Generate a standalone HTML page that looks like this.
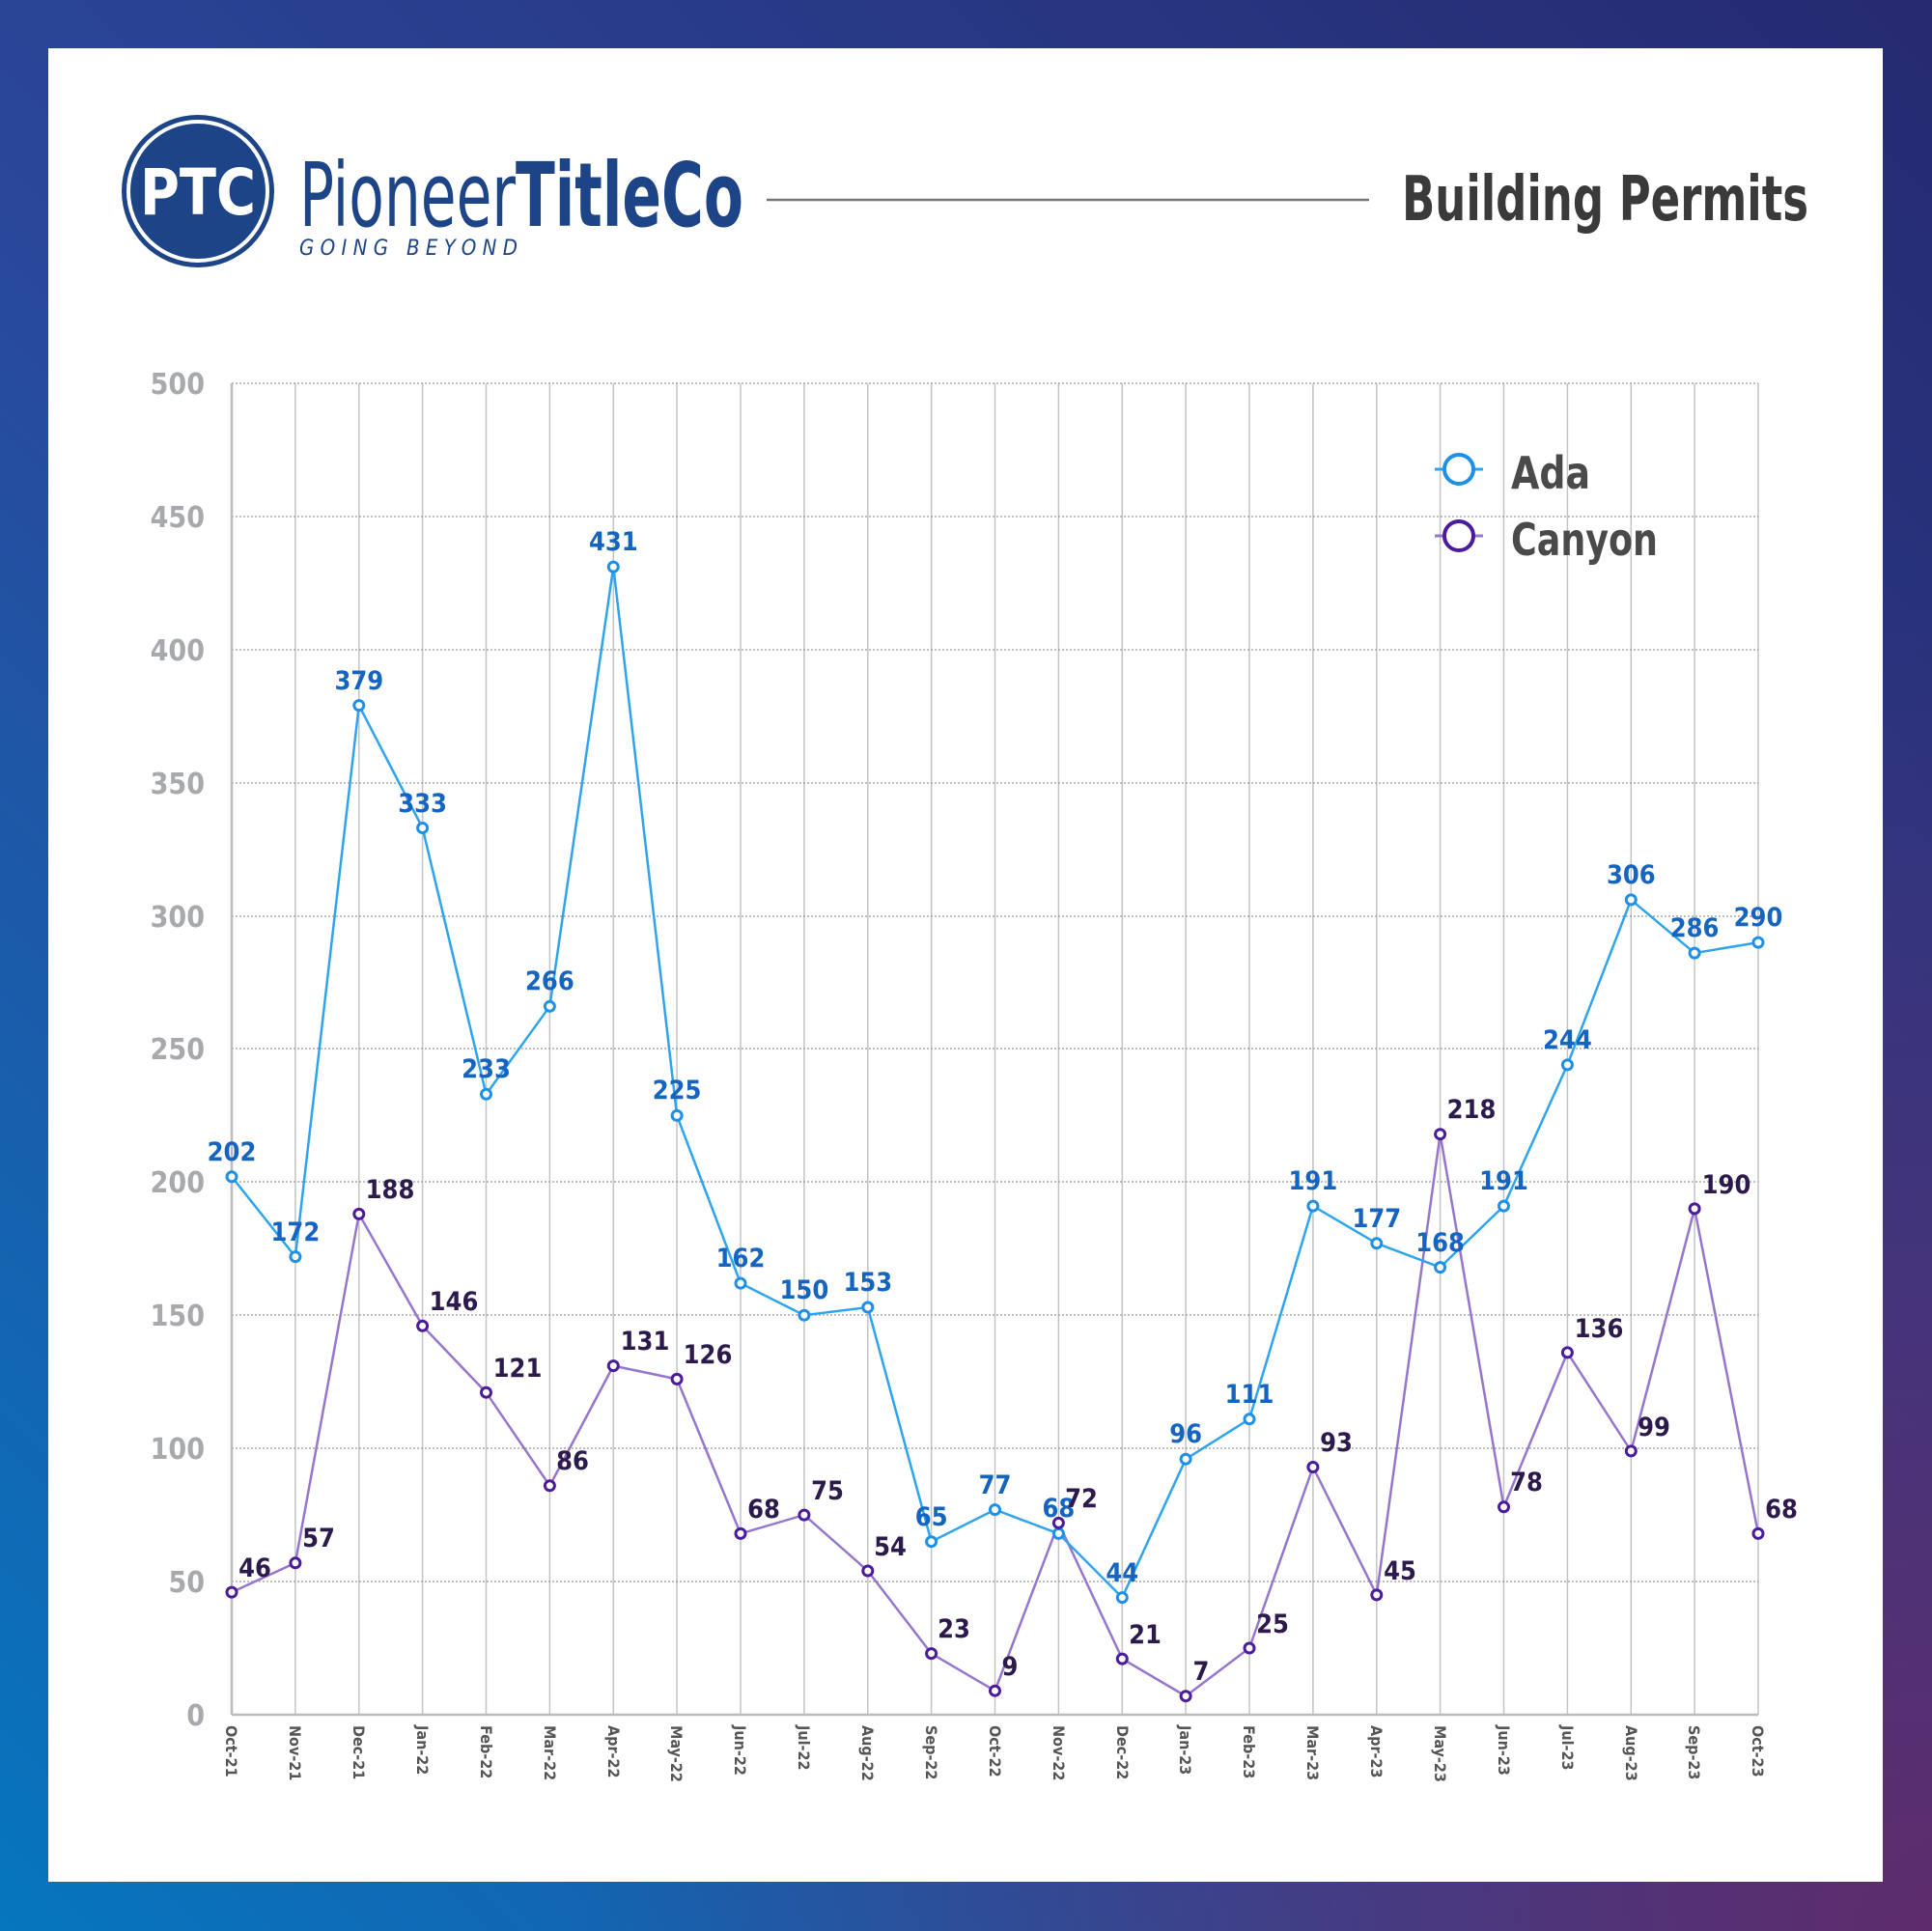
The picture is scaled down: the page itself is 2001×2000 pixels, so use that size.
<!DOCTYPE html>
<html><head><meta charset="utf-8"><style>
html,body{margin:0;padding:0;}
body{width:2001px;height:2000px;overflow:hidden;}
svg{display:block;}
.c{font-family:"Liberation Sans Narrow","DejaVu Sans Condensed","Liberation Sans",sans-serif;font-weight:bold;}
</style></head><body>
<svg width="2001" height="2000" viewBox="0 0 2001 2000" xmlns="http://www.w3.org/2000/svg">
<defs>
<linearGradient id="bg" x1="0" y1="1" x2="1" y2="0">
<stop offset="0" stop-color="#0676bf"/><stop offset="0.45" stop-color="#2a479a"/><stop offset="1" stop-color="#262a70"/>
</linearGradient>
<radialGradient id="pr" cx="1" cy="1" r="0.7">
<stop offset="0" stop-color="#5e2c6c" stop-opacity="1"/><stop offset="1" stop-color="#5e2c6c" stop-opacity="0"/>
</radialGradient>
</defs>
<rect width="2001" height="2000" fill="url(#bg)"/>
<rect width="2001" height="2000" fill="url(#pr)"/>
<rect x="50" y="50" width="1900" height="1899" fill="#fff"/>

<!-- header -->
<circle cx="205" cy="198" r="79" fill="#1d4487"/>
<circle cx="205" cy="198" r="72" fill="none" stroke="#fff" stroke-width="4"/>
<text x="205" y="222" text-anchor="middle" class="c" font-size="66" fill="#fff" textLength="120" lengthAdjust="spacingAndGlyphs">PTC</text>
<text x="310" y="234" class="c" font-size="92" fill="#1d4487" textLength="460" lengthAdjust="spacingAndGlyphs"><tspan style="font-weight:normal">Pioneer</tspan><tspan style="font-weight:bold">TitleCo</tspan></text>
<text x="310" y="264" class="c" font-size="22" fill="#1d4487" style="font-weight:normal;font-style:italic" textLength="226" lengthAdjust="spacing">GOING BEYOND</text>
<line x1="794" y1="207" x2="1418" y2="207" stroke="#777" stroke-width="2.5"/>
<text x="1873" y="228" text-anchor="end" class="c" font-size="64" fill="#3a3a3a" textLength="421" lengthAdjust="spacingAndGlyphs">Building Permits</text>

<!-- grid -->
<g stroke="#c4c4c4" stroke-width="1.5">
<line x1="305.9" y1="397" x2="305.9" y2="1776"/><line x1="371.8" y1="397" x2="371.8" y2="1776"/><line x1="437.6" y1="397" x2="437.6" y2="1776"/><line x1="503.5" y1="397" x2="503.5" y2="1776"/><line x1="569.4" y1="397" x2="569.4" y2="1776"/><line x1="635.3" y1="397" x2="635.3" y2="1776"/><line x1="701.1" y1="397" x2="701.1" y2="1776"/><line x1="767" y1="397" x2="767" y2="1776"/><line x1="832.9" y1="397" x2="832.9" y2="1776"/><line x1="898.8" y1="397" x2="898.8" y2="1776"/><line x1="964.6" y1="397" x2="964.6" y2="1776"/><line x1="1030.5" y1="397" x2="1030.5" y2="1776"/><line x1="1096.4" y1="397" x2="1096.4" y2="1776"/><line x1="1162.3" y1="397" x2="1162.3" y2="1776"/><line x1="1228.1" y1="397" x2="1228.1" y2="1776"/><line x1="1294" y1="397" x2="1294" y2="1776"/><line x1="1359.9" y1="397" x2="1359.9" y2="1776"/><line x1="1425.8" y1="397" x2="1425.8" y2="1776"/><line x1="1491.6" y1="397" x2="1491.6" y2="1776"/><line x1="1557.5" y1="397" x2="1557.5" y2="1776"/><line x1="1623.4" y1="397" x2="1623.4" y2="1776"/><line x1="1689.3" y1="397" x2="1689.3" y2="1776"/><line x1="1755.1" y1="397" x2="1755.1" y2="1776"/><line x1="1821" y1="397" x2="1821" y2="1776"/>
</g>
<g stroke="#999" stroke-width="1.3" stroke-dasharray="2,2">
<line x1="240" y1="397" x2="1821" y2="397"/><line x1="240" y1="535" x2="1821" y2="535"/><line x1="240" y1="673" x2="1821" y2="673"/><line x1="240" y1="811" x2="1821" y2="811"/><line x1="240" y1="949" x2="1821" y2="949"/><line x1="240" y1="1086" x2="1821" y2="1086"/><line x1="240" y1="1224" x2="1821" y2="1224"/><line x1="240" y1="1362" x2="1821" y2="1362"/><line x1="240" y1="1500" x2="1821" y2="1500"/><line x1="240" y1="1638" x2="1821" y2="1638"/>
</g>
<line x1="240" y1="397" x2="240" y2="1776" stroke="#bbb" stroke-width="2.5"/>
<line x1="240" y1="1776" x2="1821" y2="1776" stroke="#bbb" stroke-width="2.5"/>

<g class="c" font-size="30" fill="#a7a9ac" text-anchor="end">
<text x="212" y="408">500</text><text x="212" y="546">450</text><text x="212" y="684">400</text><text x="212" y="822">350</text><text x="212" y="960">300</text><text x="212" y="1097">250</text><text x="212" y="1235">200</text><text x="212" y="1373">150</text><text x="212" y="1511">100</text><text x="212" y="1649">50</text><text x="212" y="1787">0</text>
</g>

<g class="c" font-size="16" fill="#555">
<text transform="translate(234,1787) rotate(90)">Oct-21</text><text transform="translate(300,1787) rotate(90)">Nov-21</text><text transform="translate(366,1787) rotate(90)">Dec-21</text><text transform="translate(432,1787) rotate(90)">Jan-22</text><text transform="translate(498,1787) rotate(90)">Feb-22</text><text transform="translate(564,1787) rotate(90)">Mar-22</text><text transform="translate(630,1787) rotate(90)">Apr-22</text><text transform="translate(695,1787) rotate(90)">May-22</text><text transform="translate(761,1787) rotate(90)">Jun-22</text><text transform="translate(827,1787) rotate(90)">Jul-22</text><text transform="translate(893,1787) rotate(90)">Aug-22</text><text transform="translate(959,1787) rotate(90)">Sep-22</text><text transform="translate(1025,1787) rotate(90)">Oct-22</text><text transform="translate(1091,1787) rotate(90)">Nov-22</text><text transform="translate(1157,1787) rotate(90)">Dec-22</text><text transform="translate(1222,1787) rotate(90)">Jan-23</text><text transform="translate(1288,1787) rotate(90)">Feb-23</text><text transform="translate(1354,1787) rotate(90)">Mar-23</text><text transform="translate(1420,1787) rotate(90)">Apr-23</text><text transform="translate(1486,1787) rotate(90)">May-23</text><text transform="translate(1552,1787) rotate(90)">Jun-23</text><text transform="translate(1618,1787) rotate(90)">Jul-23</text><text transform="translate(1684,1787) rotate(90)">Aug-23</text><text transform="translate(1749,1787) rotate(90)">Sep-23</text><text transform="translate(1815,1787) rotate(90)">Oct-23</text>
</g>

<!-- Canyon -->
<polyline fill="none" stroke="#9676cc" stroke-width="2.5" points="240,1649.1 305.9,1618.8 371.8,1257.4 437.6,1373.3 503.5,1442.2 569.4,1538.8 635.3,1414.6 701.1,1428.4 767,1588.4 832.9,1569.1 898.8,1627 964.6,1712.6 1030.5,1751.2 1096.4,1577.4 1162.3,1718.1 1228.1,1756.7 1294,1707 1359.9,1519.5 1425.8,1651.9 1491.6,1174.7 1557.5,1560.8 1623.4,1400.9 1689.3,1502.9 1755.1,1251.9 1821,1588.4"/>
<!-- Ada -->
<polyline fill="none" stroke="#2ea4ef" stroke-width="2.5" points="240,1218.8 305.9,1301.6 371.8,730.6 437.6,857.5 503.5,1133.3 569.4,1042.3 635.3,587.1 701.1,1155.4 767,1329.1 832.9,1362.2 898.8,1354 964.6,1596.7 1030.5,1563.6 1096.4,1588.4 1162.3,1654.6 1228.1,1511.2 1294,1469.8 1359.9,1249.1 1425.8,1287.8 1491.6,1312.6 1557.5,1249.1 1623.4,1102.9 1689.3,931.9 1755.1,987.1 1821,976.1"/>
<g fill="#fff" stroke="#1e90e8" stroke-width="3">
<circle cx="240" cy="1218.8" r="5"/><circle cx="305.9" cy="1301.6" r="5"/><circle cx="371.8" cy="730.6" r="5"/><circle cx="437.6" cy="857.5" r="5"/><circle cx="503.5" cy="1133.3" r="5"/><circle cx="569.4" cy="1042.3" r="5"/><circle cx="635.3" cy="587.1" r="5"/><circle cx="701.1" cy="1155.4" r="5"/><circle cx="767" cy="1329.1" r="5"/><circle cx="832.9" cy="1362.2" r="5"/><circle cx="898.8" cy="1354" r="5"/><circle cx="964.6" cy="1596.7" r="5"/><circle cx="1030.5" cy="1563.6" r="5"/><circle cx="1096.4" cy="1588.4" r="5"/><circle cx="1162.3" cy="1654.6" r="5"/><circle cx="1228.1" cy="1511.2" r="5"/><circle cx="1294" cy="1469.8" r="5"/><circle cx="1359.9" cy="1249.1" r="5"/><circle cx="1425.8" cy="1287.8" r="5"/><circle cx="1491.6" cy="1312.6" r="5"/><circle cx="1557.5" cy="1249.1" r="5"/><circle cx="1623.4" cy="1102.9" r="5"/><circle cx="1689.3" cy="931.9" r="5"/><circle cx="1755.1" cy="987.1" r="5"/><circle cx="1821" cy="976.1" r="5"/>
</g>
<g fill="#fff" stroke="#4b1b9c" stroke-width="3">
<circle cx="240" cy="1649.1" r="5"/><circle cx="305.9" cy="1618.8" r="5"/><circle cx="371.8" cy="1257.4" r="5"/><circle cx="437.6" cy="1373.3" r="5"/><circle cx="503.5" cy="1442.2" r="5"/><circle cx="569.4" cy="1538.8" r="5"/><circle cx="635.3" cy="1414.6" r="5"/><circle cx="701.1" cy="1428.4" r="5"/><circle cx="767" cy="1588.4" r="5"/><circle cx="832.9" cy="1569.1" r="5"/><circle cx="898.8" cy="1627" r="5"/><circle cx="964.6" cy="1712.6" r="5"/><circle cx="1030.5" cy="1751.2" r="5"/><circle cx="1096.4" cy="1577.4" r="5"/><circle cx="1162.3" cy="1718.1" r="5"/><circle cx="1228.1" cy="1756.7" r="5"/><circle cx="1294" cy="1707" r="5"/><circle cx="1359.9" cy="1519.5" r="5"/><circle cx="1425.8" cy="1651.9" r="5"/><circle cx="1491.6" cy="1174.7" r="5"/><circle cx="1557.5" cy="1560.8" r="5"/><circle cx="1623.4" cy="1400.9" r="5"/><circle cx="1689.3" cy="1502.9" r="5"/><circle cx="1755.1" cy="1251.9" r="5"/><circle cx="1821" cy="1588.4" r="5"/>
</g>

<g class="c" font-size="27" fill="#1565c0" text-anchor="middle">
<text x="240" y="1202">202</text><text x="305.9" y="1285">172</text><text x="371.8" y="714">379</text><text x="437.6" y="841">333</text><text x="503.5" y="1116">233</text><text x="569.4" y="1025">266</text><text x="635.3" y="570">431</text><text x="701.1" y="1138">225</text><text x="767" y="1312">162</text><text x="832.9" y="1345">150</text><text x="898.8" y="1337">153</text><text x="964.6" y="1580">65</text><text x="1030.5" y="1547">77</text><text x="1096.4" y="1571">68</text><text x="1162.3" y="1638">44</text><text x="1228.1" y="1494">96</text><text x="1294" y="1453">111</text><text x="1359.9" y="1232">191</text><text x="1425.8" y="1271">177</text><text x="1491.6" y="1296">168</text><text x="1557.5" y="1232">191</text><text x="1623.4" y="1086">244</text><text x="1689.3" y="915">306</text><text x="1755.1" y="970">286</text><text x="1821" y="959">290</text>
</g>
<g class="c" font-size="27" fill="#2d1a4d" text-anchor="middle">
<text x="264" y="1633">46</text><text x="330" y="1602">57</text><text x="404" y="1241">188</text><text x="470" y="1357">146</text><text x="536" y="1426">121</text><text x="593" y="1522">86</text><text x="668" y="1398">131</text><text x="733" y="1412">126</text><text x="791" y="1572">68</text><text x="857" y="1553">75</text><text x="922" y="1611">54</text><text x="988" y="1696">23</text><text x="1046" y="1735">9</text><text x="1120" y="1561">72</text><text x="1186" y="1702">21</text><text x="1244" y="1740">7</text><text x="1318" y="1691">25</text><text x="1384" y="1503">93</text><text x="1450" y="1636">45</text><text x="1524" y="1158">218</text><text x="1581" y="1544">78</text><text x="1656" y="1385">136</text><text x="1713" y="1487">99</text><text x="1788" y="1236">190</text><text x="1845" y="1572">68</text>
</g>

<!-- legend -->
<line x1="1486" y1="486" x2="1536" y2="486" stroke="#2ea4ef" stroke-width="3"/>
<circle cx="1511" cy="486" r="15" fill="#fff" stroke="#1e90e8" stroke-width="4"/>
<text x="1565" y="506" class="c" font-size="46" fill="#4a4a4a" textLength="82" lengthAdjust="spacingAndGlyphs">Ada</text>
<line x1="1486" y1="555" x2="1536" y2="555" stroke="#9676cc" stroke-width="3"/>
<circle cx="1511" cy="555" r="15" fill="#fff" stroke="#4b1b9c" stroke-width="4"/>
<text x="1565" y="575" class="c" font-size="46" fill="#4a4a4a" textLength="152" lengthAdjust="spacingAndGlyphs">Canyon</text>
</svg>
</body></html>
